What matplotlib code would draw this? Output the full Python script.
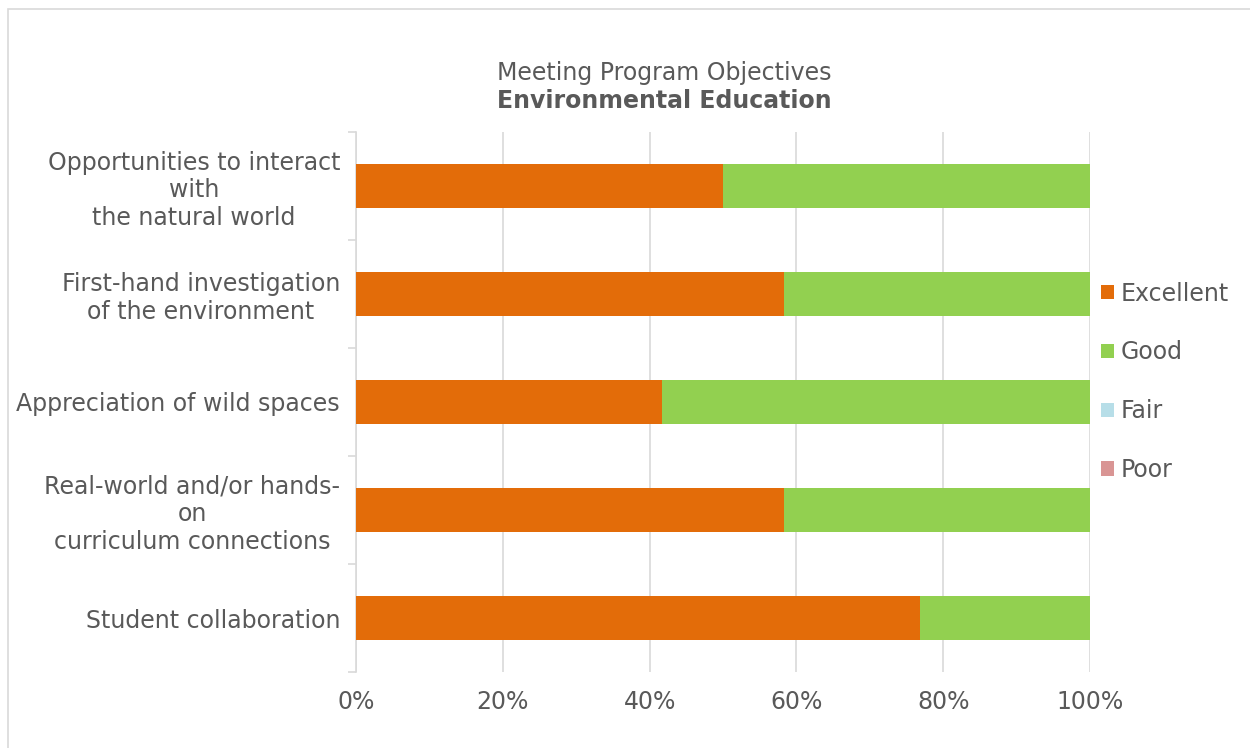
import matplotlib
matplotlib.use("Agg")
import matplotlib.pyplot as plt
from matplotlib.patches import Patch, Rectangle
from matplotlib.ticker import PercentFormatter

categories = [
    "Opportunities to interact\nwith\nthe natural world",
    "First-hand investigation\nof the environment",
    "Appreciation of wild spaces",
    "Real-world and/or hands-\non\ncurriculum connections",
    "Student collaboration",
]
excellent = [50.0, 58.3, 41.7, 58.3, 76.9]
good = [50.0, 41.7, 58.3, 41.7, 23.1]
fair = [0, 0, 0, 0, 0]
poor = [0, 0, 0, 0, 0]
series_names = ["Excellent", "Good", "Fair", "Poor"]
colors = ["#E36C09", "#92D050", "#B7DEE8", "#D99594"]
xticks = [0, 20, 40, 60, 80, 100]

text_color = "#595959"
grid_color = "#D9D9D9"
fs = 17
plt.rcParams["font.family"] = ["DejaVu Sans"]

fig = plt.figure(figsize=(12.5, 7.48), dpi=100)
ax = fig.add_axes([356 / 1250, 1 - 672 / 748, (1090 - 356) / 1250, (672 - 132) / 748])

# outer frame of the chart area
fig.patches.append(Rectangle((8 / 1250, -0.01), 1.2, 1 - 9 / 748 + 0.01,
                             transform=fig.transFigure, fill=False,
                             edgecolor=grid_color, linewidth=1.2))

ypos = list(range(len(categories)))
left = [0.0] * len(categories)
for name, vals, col in zip(series_names, [excellent, good, fair, poor], colors):
    ax.barh(ypos, vals, left=left, height=0.407, color=col, label=name, zorder=3)
    left = [l + v for l, v in zip(left, vals)]

ax.set_xlim(0, 100)
ax.set_ylim(len(categories) - 0.5, -0.5)
ax.set_xticks(xticks)
ax.xaxis.set_major_formatter(PercentFormatter(decimals=0))
ax.tick_params(axis="x", length=0, pad=13, labelsize=fs, labelcolor=text_color)
ax.grid(axis="x", color=grid_color, linewidth=1.2, zorder=0)

ax.set_yticks(ypos)
ax.set_yticklabels(categories)
ax.tick_params(axis="y", which="major", length=0, pad=11.5, labelsize=fs, labelcolor=text_color)
for lbl in ax.get_yticklabels():
    lbl.set_multialignment("center")
    lbl.set_linespacing(1.18)
ax.set_yticks([i + 0.5 for i in range(-1, len(categories))], minor=True)
ax.tick_params(axis="y", which="minor", length=6, width=1.2, color=grid_color)

for s in ["top", "right", "bottom"]:
    ax.spines[s].set_visible(False)
ax.spines["left"].set_color(grid_color)
ax.spines["left"].set_linewidth(1.2)

handles = [Patch(facecolor=c, label=n) for n, c in zip(series_names, colors)]
fig.legend(handles=handles, loc="upper left", bbox_to_anchor=(1096 / 1250, 1 - 277 / 748),
           frameon=False, fontsize=fs, labelcolor=text_color, handlelength=0.55,
           handleheight=0.55, handletextpad=0.3, labelspacing=1.47, borderaxespad=0,
           borderpad=0.2)

fig.text(664 / 1250, 1 - 73 / 748, "Meeting Program Objectives", ha="center", va="center",
         fontsize=fs, color=text_color)
fig.text(664 / 1250, 1 - 101 / 748, "Environmental Education", ha="center", va="center",
         fontsize=17, color=text_color, fontweight="bold")

fig.savefig("out.png", dpi=100, facecolor="white")
